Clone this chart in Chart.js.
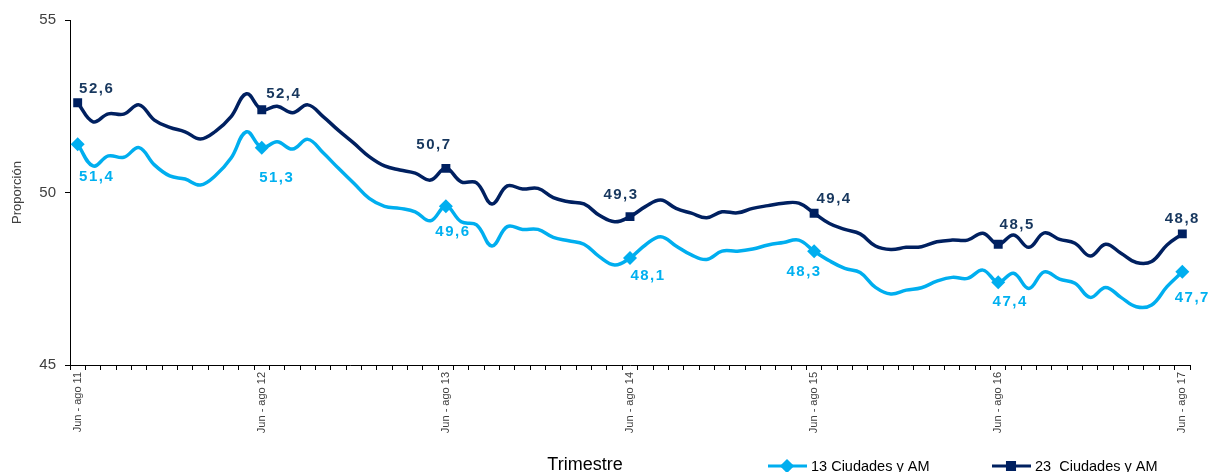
<!DOCTYPE html>
<html>
<head>
<meta charset="utf-8">
<script src="https://cdn.jsdelivr.net/npm/chart.js@4.4.1/dist/chart.umd.min.js"></script>
<style>
  html, body { margin: 0; padding: 0; background: #fff; }
  #wrap { width: 1211px; height: 472px; }
</style>
</head>
<body>
<div id="wrap"><canvas id="resultPlot" width="1211" height="472"></canvas></div>
<script>
// rolling quarters, one per month, Jun-ago 2011 .. Jun-ago 2017
var quarterNames = ['Jun - ago', 'Jul - sep', 'Ago - oct', 'Sep - nov', 'Oct - dic', 'Nov - ene',
                    'Dic - feb', 'Ene - mar', 'Feb - abr', 'Mar - may', 'Abr - jun', 'May - jul'];
var years = ['11', '12', '13', '14', '15', '16', '17'];

var serie13 = [
  51.4, 50.77, 51.06, 51.02, 51.3, 50.8, 50.48, 50.39, 50.22, 50.5, 51.0, 51.76,
  51.3, 51.47, 51.26, 51.54, 51.15, 50.7, 50.27, 49.83, 49.6, 49.54, 49.44, 49.18,
  49.6, 49.15, 49.06, 48.45, 49.01, 48.93, 48.93, 48.7, 48.6, 48.5, 48.14, 47.9,
  48.1, 48.48, 48.72, 48.45, 48.19, 48.06, 48.3, 48.3, 48.36, 48.48, 48.55, 48.62,
  48.3, 48.02, 47.8, 47.68, 47.25, 47.06, 47.17, 47.24, 47.43, 47.54, 47.51, 47.75,
  47.4, 47.66, 47.22, 47.7, 47.49, 47.37, 46.96, 47.25, 46.96, 46.69, 46.74, 47.27,
  47.7
];
var serie23 = [
  52.6, 52.05, 52.28, 52.27, 52.54, 52.1, 51.89, 51.76, 51.55, 51.78, 52.2, 52.86,
  52.4, 52.5, 52.31, 52.54, 52.2, 51.8, 51.43, 51.04, 50.77, 50.65, 50.56, 50.36,
  50.7, 50.31, 50.28, 49.67, 50.19, 50.1, 50.12, 49.85, 49.73, 49.67, 49.34, 49.15,
  49.3, 49.59, 49.78, 49.54, 49.4, 49.27, 49.44, 49.41, 49.54, 49.62, 49.69, 49.69,
  49.4, 49.1, 48.93, 48.8, 48.45, 48.35, 48.41, 48.43, 48.57, 48.62, 48.62, 48.82,
  48.5, 48.77, 48.41, 48.83, 48.64, 48.53, 48.16, 48.5, 48.24, 47.97, 48.0, 48.48,
  48.8
];
var legends = ['13 Ciudades y AM', '23  Ciudades y AM'];
var yTicks = [45, 50, 55];

var lightBlue = '#00AEEF';
var darkBlue = '#002060';
var fontName = '"Liberation Sans", Arial, sans-serif';

// where each yearly value label sits relative to its point (px)
var labelShift13 = [[19, 33], [15, 30], [7, 26], [18, 18], [-10, 21], [12, 20], [10, 26]];
var labelShift23 = [[19, -14], [22, -16], [-12, -23], [-9, -22], [20, -14], [19, -19], [0, -15]];

// category labels
var categories = [];
for (let y = 0; y < years.length; y++) {
  for (let q = 0; q < quarterNames.length; q++) {
    if (y === years.length - 1 && q > 0) break;
    categories.push(quarterNames[q] + ' ' + years[y]);
  }
}

function showPoint(ctx) {
  return ctx.dataIndex % 12 === 0;
}

/**
 * value labels on the yearly points
 */
var valueLabels = {
  id: 'valueLabels',
  afterDatasetsDraw: function(chart) {
    let c = chart.ctx;
    c.save();
    c.font = 'bold 15px ' + fontName;
    c.letterSpacing = '1.5px';
    c.textAlign = 'center';
    c.textBaseline = 'middle';
    chart.data.datasets.forEach(function(ds, di) {
      let meta = chart.getDatasetMeta(di);
      let shifts = di === 0 ? labelShift13 : labelShift23;
      c.fillStyle = di === 0 ? '#00B0F0' : '#17375E';
      meta.data.forEach(function(pt, i) {
        if (i % 12 !== 0) return;
        let s = shifts[i / 12];
        let txt = ds.data[i].toFixed(1).replace('.', ',');
        c.fillText(txt, pt.x + s[0], pt.y + s[1]);
      });
    });
    c.restore();
  }
};

/**
 * x title and legend on the bottom line
 */
var bottomLine = {
  id: 'bottomLine',
  afterDraw: function(chart) {
    let c = chart.ctx;
    c.save();
    c.fillStyle = '#000';
    c.font = '18px ' + fontName;
    c.textAlign = 'center';
    c.textBaseline = 'middle';
    c.fillText('Trimestre', 585, 465);

    let items = [
      {x: 768, color: lightBlue, style: 'rectRot'},
      {x: 992, color: darkBlue, style: 'rect'}
    ];
    c.font = '14.5px ' + fontName;
    c.textAlign = 'left';
    for (let i = 0; i < items.length; i++) {
      let it = items[i];
      c.strokeStyle = it.color;
      c.lineWidth = 3;
      c.beginPath();
      c.moveTo(it.x, 466);
      c.lineTo(it.x + 39, 466);
      c.stroke();
      c.beginPath();
      Chart.helpers.drawPoint(c, {pointStyle: it.style, radius: 5, borderWidth: 1}, it.x + 19, 466);
      c.fillStyle = it.color;
      c.fill();
      c.fillStyle = '#000';
      c.fillText(legends[i], it.x + 43, 467);
    }
    c.restore();
  }
};

let chartObject = {
  type: 'line',
  data: {
    labels: categories,
    datasets: [
      {
        label: legends[0],
        data: serie13,
        borderColor: lightBlue,
        backgroundColor: lightBlue,
        borderWidth: 3.5,
        tension: 0.4,
        pointStyle: 'rectRot',
        pointRadius: function(ctx) { return showPoint(ctx) ? 7 : 0; },
        pointBorderWidth: 0
      },
      {
        label: legends[1],
        data: serie23,
        borderColor: darkBlue,
        backgroundColor: darkBlue,
        borderWidth: 3.5,
        tension: 0.4,
        pointStyle: 'rect',
        pointRadius: function(ctx) { return showPoint(ctx) ? 6.3 : 0; },
        pointBorderWidth: 0
      }
    ]
  },
  options: {
    responsive: false,
    animation: false,
    layout: {padding: {left: 0, right: 21, top: 20, bottom: 0}},
    plugins: {legend: {display: false}, tooltip: {enabled: false}},
    scales: {
      x: {
        offset: true,
        grid: {offset: true, drawOnChartArea: false, color: '#000', tickLength: 5},
        border: {color: '#000', width: 1},
        ticks: {
          autoSkip: false,
          maxRotation: 90,
          minRotation: 90,
          padding: 2,
          color: '#404040',
          font: {family: fontName, size: 11},
          callback: function(v, i) { return i % 12 === 0 ? categories[i] : ''; }
        },
        afterFit: function(scale) { scale.height = 107; }
      },
      y: {
        min: yTicks[0],
        max: yTicks[yTicks.length - 1],
        afterBuildTicks: function(scale) {
          scale.ticks = yTicks.map(function(v) { return {value: v}; });
        },
        grid: {drawOnChartArea: false, color: '#000', tickLength: 5},
        border: {color: '#000', width: 1},
        ticks: {
          padding: 9,
          color: '#404040',
          font: {family: fontName, size: 15}
        },
        title: {
          display: true,
          text: 'Proporción',
          color: '#404040',
          font: {family: fontName, size: 13},
          padding: {top: 10, bottom: 0}
        },
        afterFit: function(scale) { scale.width = 70; }
      }
    }
  },
  plugins: [valueLabels, bottomLine]
};

var plot = new Chart(document.getElementById('resultPlot'), chartObject);
</script>
</body>
</html>
